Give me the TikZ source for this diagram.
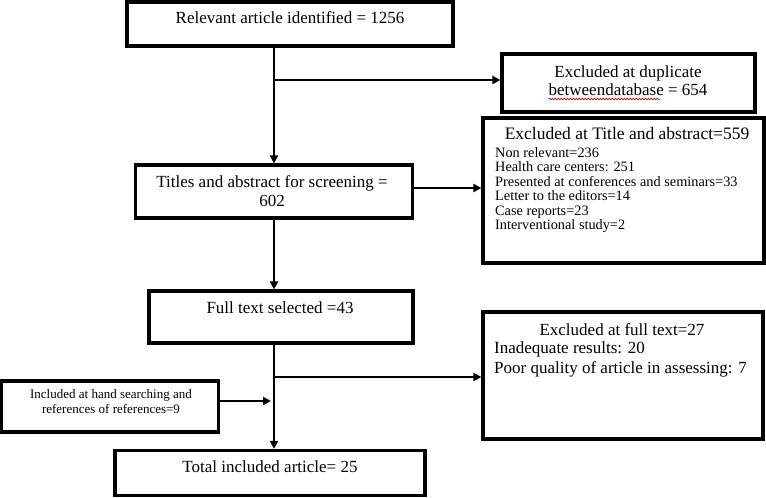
\documentclass[tikz,border=0pt]{standalone}
\usepackage{fontspec}
\setmainfont{Liberation Serif}
\usetikzlibrary{arrows.meta,decorations.pathmorphing}
\begin{document}
\begin{tikzpicture}[x=1pt,y=-1pt,
  box/.style={draw,line width=3.2pt,inner sep=0pt,rectangle},
  conn/.style={line width=2.6pt},
  arr/.style={conn,-{Triangle[length=8pt,width=8pt]}},
  big/.style={font=\fontsize{17}{20}\selectfont,inner sep=0pt},
  mid/.style={font=\fontsize{14.3}{17}\selectfont,inner sep=0pt},
  sml/.style={font=\fontsize{13}{15}\selectfont,inner sep=0pt}]
\useasboundingbox (0,0) rectangle (766,498);
% boxes
\node[box,minimum width=326pt,minimum height=44pt] (b1) at (290,24) {};
\node[box,minimum width=253pt,minimum height=58pt] (b2) at (628.5,83) {};
\node[box,minimum width=281pt,minimum height=145pt] (b3) at (623.5,190.5) {};
\node[box,minimum width=277pt,minimum height=53pt] (b4) at (274,191.5) {};
\node[box,minimum width=264pt,minimum height=52pt] (b5) at (281,317) {};
\node[box,minimum width=280pt,minimum height=127pt] (b6) at (623,375.5) {};
\node[box,minimum width=217pt,minimum height=51pt] (b7) at (110,406.5) {};
\node[box,minimum width=310pt,minimum height=45pt] (b8) at (270,473) {};
% texts
\node[big,anchor=base] (t1) at (290,23) {Relevant article identified = 1256};
\node[big,anchor=base] (t2a) at (628,77) {Excluded at duplicate};
\node[big,anchor=base] (t2b) at (628,95) {betweendatabase = 654};
\draw[red!80!black,line width=0.6pt,decorate,decoration={snake,amplitude=0.8pt,segment length=3pt}] (t2b.base west) ++(0,4) coordinate (sq1) -- ++(112,0) coordinate (sq2);
\node[big,anchor=base,font=\fontsize{17.5}{20}\selectfont] (t3) at (627,139) {Excluded at Title and abstract=559};
\node[mid,anchor=base west] (t3a) at (495,157) {Non relevant=236};
\node[mid,anchor=base west] (t3b) at (495,171.5) {Health care centers: 251};
\node[mid,anchor=base west] (t3c) at (495,186) {Presented at conferences and seminars=33};
\node[mid,anchor=base west] (t3d) at (495,200.5) {Letter to the editors=14};
\node[mid,anchor=base west] (t3e) at (495,215) {Case reports=23};
\node[mid,anchor=base west] (t3f) at (495,229.5) {Interventional study=2};
\node[big,anchor=base] (t4a) at (272,187) {Titles and abstract for screening =};
\node[big,anchor=base] (t4b) at (272,206) {602};
\node[big,anchor=base] (t5) at (280,313) {Full text selected =43};
\node[big,anchor=base] (t6) at (622,335) {Excluded at full text=27};
\node[big,anchor=base west] (t6a) at (494,353) {Inadequate results: 20};
\node[big,anchor=base west] (t6b) at (494,373) {Poor quality of article in assessing: 7};
\node[sml,anchor=base] (t7a) at (111,398) {Included at hand searching and};
\node[sml,anchor=base] (t7b) at (111,413) {references of references=9};
\node[big,anchor=base] (t8) at (270,472) {Total included article= 25};
% connectors
\coordinate (j1) at (274,80);
\coordinate (j2) at (274,377);
\coordinate (j3) at (271,401);
\draw[arr] (b1.south -| b4.north) -- (b4.north);
\draw[arr] (j1) -- (b2.west |- j1);
\draw[arr] (b4.east |- 0,188) -- (b3.west |- 0,188);
\draw[arr] (b4.south) -- (b4.south |- b5.north);
\draw[arr] (b5.south -| b4.south) -- (b8.north -| b4.south);
\draw[arr] (j2) -- (b6.west |- j2);
\draw[arr] (b7.east |- j3) -- (j3);
\end{tikzpicture}
\end{document}
